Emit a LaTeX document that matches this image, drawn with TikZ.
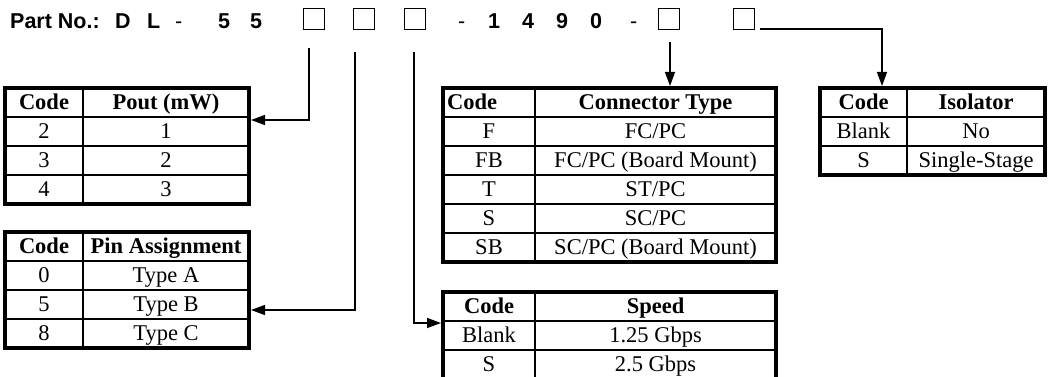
\documentclass[tikz,border=0pt]{standalone}
\usepackage{fontspec}
\setmainfont{Liberation Serif}
\newfontfamily\arialf{Liberation Sans}
\usetikzlibrary{arrows.meta}
\tikzset{
  hdr/.style={font=\arialf\bfseries\fontsize{21.5}{24}\selectfont, anchor=base west, inner sep=0},
  hyph/.style={font=\arialf\fontsize{21.5}{24}\selectfont, anchor=base west, inner sep=0},
  pbox/.style={draw, line width=1.3pt, minimum size=21pt, inner sep=0},
  conn/.style={line width=1.4pt},
  arr/.style={conn, -{Triangle[length=14pt,width=10pt]}},
  cell/.style={font=\fontsize{22.5}{25}\selectfont, inner sep=0, anchor=base},
  hcell/.style={cell, font=\bfseries\fontsize{22.5}{25}\selectfont},
  codehead/.style={},
  outer/.style={line width=3.5pt},
  inner/.style={line width=1.5pt},
}
% #1 name, #2 x0, #3 xdiv, #4 x1, #5 ytop, #6 rows incl. header, #7 header A, #8 header B, #9 rows a/b
\newcommand\codetbl[9]{%
  \pgfmathsetmacro\tblbot{#5+29*#6}%
  \pgfmathtruncatemacro\tblnm{#6-1}%
  \pgfmathsetmacro\tblca{(#2+#3)/2}%
  \pgfmathsetmacro\tblcb{(#3+#4)/2}%
  \draw[inner] (#3,#5) -- (#3,\tblbot);
  \foreach \k in {1,...,\tblnm} {\draw[inner] (#2,{#5+29*\k}) -- (#4,{#5+29*\k});}
  \draw[outer] (#2,#5) rectangle (#4,\tblbot);
  \node[hcell, codehead] (#1-ha) at (\tblca,{#5+21.5}) {#7};
  \node[hcell] (#1-hb) at (\tblcb,{#5+21.5}) {#8};
  \foreach \a/\b [count=\i] in {#9} {
    \node[cell] (#1-a\i) at (\tblca,{#5+29*\i+21.5}) {\a};
    \node[cell] (#1-b\i) at (\tblcb,{#5+29*\i+21.5}) {\b};
  }
}
\begin{document}
\begin{tikzpicture}[x=1pt,y=-1pt]
\useasboundingbox (0,0) rectangle (1049,377);
% part number line
\node[hdr] (pn) at (10,28.5) {Part No.:};
\node[hdr] (cd) at (115,28.5) {D};
\node[hdr] (cl) at (147,28.5) {L};
\node[hyph] (hy1) at (175,28.5) {-};
\node[hdr] (c5a) at (218,28.5) {5};
\node[hdr] (c5b) at (250,28.5) {5};
\node[pbox] (b1) at (314,19) {};
\node[pbox] (b2) at (364,19) {};
\node[pbox] (b3) at (415,19) {};
\node[hyph] (hy2) at (458,28.5) {-};
\node[hdr] (c1) at (488,28.5) {1};
\node[hdr] (c4) at (522,28.5) {4};
\node[hdr] (c9) at (556,28.5) {9};
\node[hdr] (c0) at (590,28.5) {0};
\node[hyph] (hy3) at (630,28.5) {-};
\node[pbox] (b4) at (669,19) {};
\node[pbox] (b5) at (744,19) {};
% tables
\codetbl{pout}{5}{83}{249}{88}{4}{Code}{Pout (mW)}{2/1,3/2,4/3}
\codetbl{pin}{5}{83}{249}{232}{4}{Code}{Pin Assignment}{0/Type A,5/Type B,8/Type C}
\begin{scope}[codehead/.style={anchor=base west, xshift=-42pt}]
\codetbl{con}{443}{535}{776}{88}{6}{Code}{Connector Type}{F/{FC/PC},FB/{FC/PC (Board Mount)},T/{ST/PC},S/{SC/PC},SB/{SC/PC (Board Mount)}}
\end{scope}
\codetbl{iso}{820}{907}{1045}{88}{3}{Code}{Isolator}{Blank/No,S/Single-Stage}
\codetbl{spd}{443}{535}{776}{292}{3}{Code}{Speed}{Blank/1.25 Gbps,S/2.5 Gbps}
% connector end points
\coordinate (s1) at (309,48);
\coordinate (s2) at (355,52);
\coordinate (s3) at (414,52);
\coordinate (s4) at (670,42);
\coordinate (s5) at (760,29);
\coordinate (poutE) at (251,120);
\coordinate (pinE) at (251,310);
\coordinate (spdW) at (441,323);
\coordinate (conN) at (670,86);
\coordinate (isoN) at (882,86);
\draw[arr] (s1) |- (poutE);
\draw[arr] (s2) |- (pinE);
\draw[arr] (s3) |- (spdW);
\draw[arr] (s4) -- (conN);
\draw[arr] (s5) -| (isoN);
\end{tikzpicture}
\end{document}
